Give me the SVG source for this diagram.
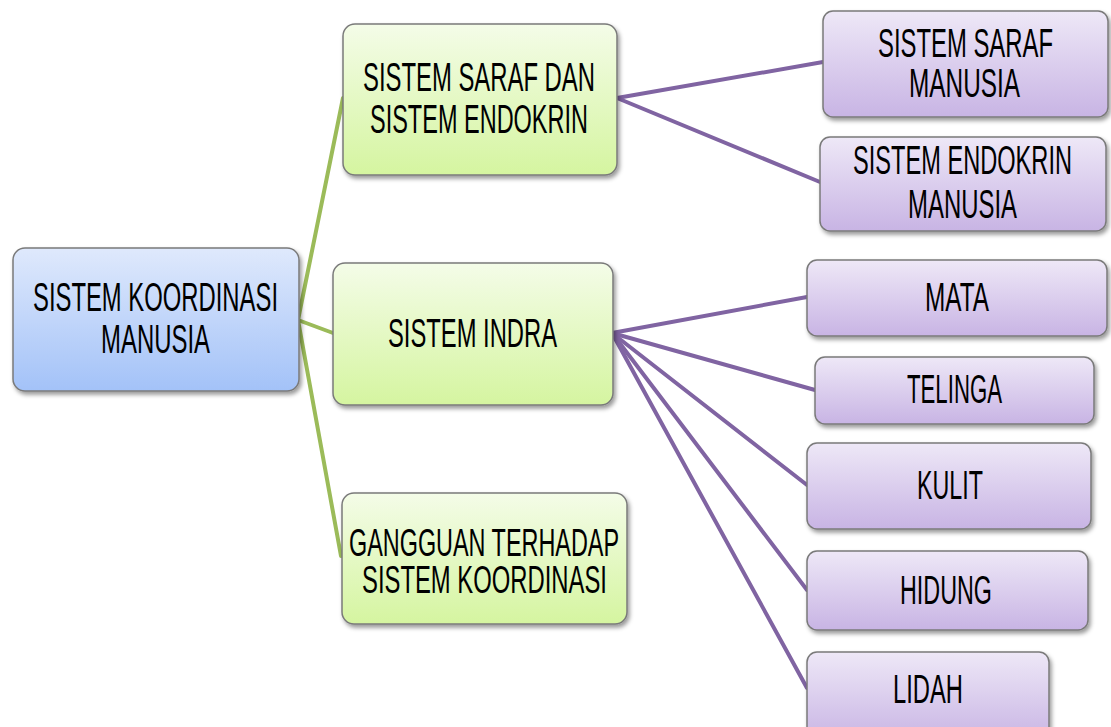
<svg xmlns="http://www.w3.org/2000/svg" width="1111" height="727" viewBox="0 0 1111 727">
<defs>
<linearGradient id="gBlue" x1="0" y1="0" x2="0" y2="1">
<stop offset="0" stop-color="#dfe9fc"/>
<stop offset="1" stop-color="#a3c2f8"/>
</linearGradient>
<linearGradient id="gGreen" x1="0" y1="0" x2="0" y2="1">
<stop offset="0" stop-color="#f4fce8"/>
<stop offset="1" stop-color="#d5f5a0"/>
</linearGradient>
<linearGradient id="gPurple" x1="0" y1="0" x2="0" y2="1">
<stop offset="0" stop-color="#eee8f7"/>
<stop offset="1" stop-color="#c8b4e4"/>
</linearGradient>
<filter id="sh" x="-10%" y="-10%" width="125%" height="130%">
<feDropShadow dx="2" dy="3" stdDeviation="2" flood-color="#000" flood-opacity="0.4"/>
</filter>
</defs>
<style>
.box{stroke:#7a7a7a;stroke-width:1.5;filter:url(#sh)}
.blue{fill:url(#gBlue)}
.green{fill:url(#gGreen)}
.purple{fill:url(#gPurple)}
.t{font-family:"Liberation Sans","DejaVu Sans",sans-serif;font-size:40px;fill:#000}
.s{font-size:38px}
.cg{stroke:#9bbb59;stroke-width:4;fill:none;stroke-linecap:round}
.cp{stroke:#8064a2;stroke-width:4;fill:none;stroke-linecap:round}
</style>
<rect width="1111" height="727" fill="#fff"/>
<g id="connectors">
<line class="cg" x1="298" y1="320" x2="343" y2="98"/>
<line class="cg" x1="298" y1="320" x2="333" y2="333"/>
<line class="cg" x1="298" y1="320" x2="341" y2="556"/>
<line class="cp" x1="617" y1="98" x2="823" y2="62"/>
<line class="cp" x1="617" y1="98" x2="820" y2="182"/>
<line class="cp" x1="612" y1="333" x2="807" y2="297"/>
<line class="cp" x1="612" y1="333" x2="815" y2="390"/>
<line class="cp" x1="612" y1="333" x2="807" y2="485"/>
<line class="cp" x1="612" y1="333" x2="807" y2="590"/>
<line class="cp" x1="612" y1="333" x2="807" y2="688"/>
</g>
<g id="node-root">
<rect class="box blue" x="13" y="248" width="286" height="143" rx="12"/>
<text class="t" x="33" y="311" textLength="245" lengthAdjust="spacingAndGlyphs">SISTEM KOORDINASI</text>
<text class="t" x="101" y="353" textLength="109" lengthAdjust="spacingAndGlyphs">MANUSIA</text>
</g>
<g id="node-saraf-endokrin">
<rect class="box green" x="343" y="24" width="274" height="151" rx="12"/>
<text class="t" x="363" y="91" textLength="232" lengthAdjust="spacingAndGlyphs">SISTEM SARAF DAN</text>
<text class="t" x="370" y="133" textLength="218" lengthAdjust="spacingAndGlyphs">SISTEM ENDOKRIN</text>
</g>
<g id="node-indra">
<rect class="box green" x="333" y="263" width="280" height="142" rx="12"/>
<text class="t" x="388" y="347" textLength="169" lengthAdjust="spacingAndGlyphs">SISTEM INDRA</text>
</g>
<g id="node-gangguan">
<rect class="box green" x="342" y="493" width="285" height="131" rx="12"/>
<text class="t s" x="349" y="556" textLength="270" lengthAdjust="spacingAndGlyphs">GANGGUAN TERHADAP</text>
<text class="t s" x="362" y="593" textLength="245" lengthAdjust="spacingAndGlyphs">SISTEM KOORDINASI</text>
</g>
<g id="node-saraf-manusia">
<rect class="box purple" x="823" y="11" width="285" height="106" rx="10"/>
<text class="t" x="878" y="57" textLength="175" lengthAdjust="spacingAndGlyphs">SISTEM SARAF</text>
<text class="t" x="909" y="97" textLength="111" lengthAdjust="spacingAndGlyphs">MANUSIA</text>
</g>
<g id="node-endokrin-manusia">
<rect class="box purple" x="820" y="137" width="286" height="94" rx="10"/>
<text class="t" x="853" y="174" textLength="219" lengthAdjust="spacingAndGlyphs">SISTEM ENDOKRIN</text>
<text class="t" x="908" y="218" textLength="109" lengthAdjust="spacingAndGlyphs">MANUSIA</text>
</g>
<g id="node-mata">
<rect class="box purple" x="807" y="260" width="300" height="76" rx="10"/>
<text class="t" x="925" y="311" textLength="64" lengthAdjust="spacingAndGlyphs">MATA</text>
</g>
<g id="node-telinga">
<rect class="box purple" x="815" y="357" width="279" height="67" rx="10"/>
<text class="t" x="907" y="403" textLength="95" lengthAdjust="spacingAndGlyphs">TELINGA</text>
</g>
<g id="node-kulit">
<rect class="box purple" x="807" y="443" width="284" height="86" rx="10"/>
<text class="t" x="917" y="499" textLength="66" lengthAdjust="spacingAndGlyphs">KULIT</text>
</g>
<g id="node-hidung">
<rect class="box purple" x="807" y="551" width="281" height="79" rx="10"/>
<text class="t" x="900" y="604" textLength="92" lengthAdjust="spacingAndGlyphs">HIDUNG</text>
</g>
<g id="node-lidah">
<rect class="box purple" x="807" y="652" width="242" height="90" rx="10"/>
<text class="t" x="893" y="703" textLength="70" lengthAdjust="spacingAndGlyphs">LIDAH</text>
</g>
</svg>
